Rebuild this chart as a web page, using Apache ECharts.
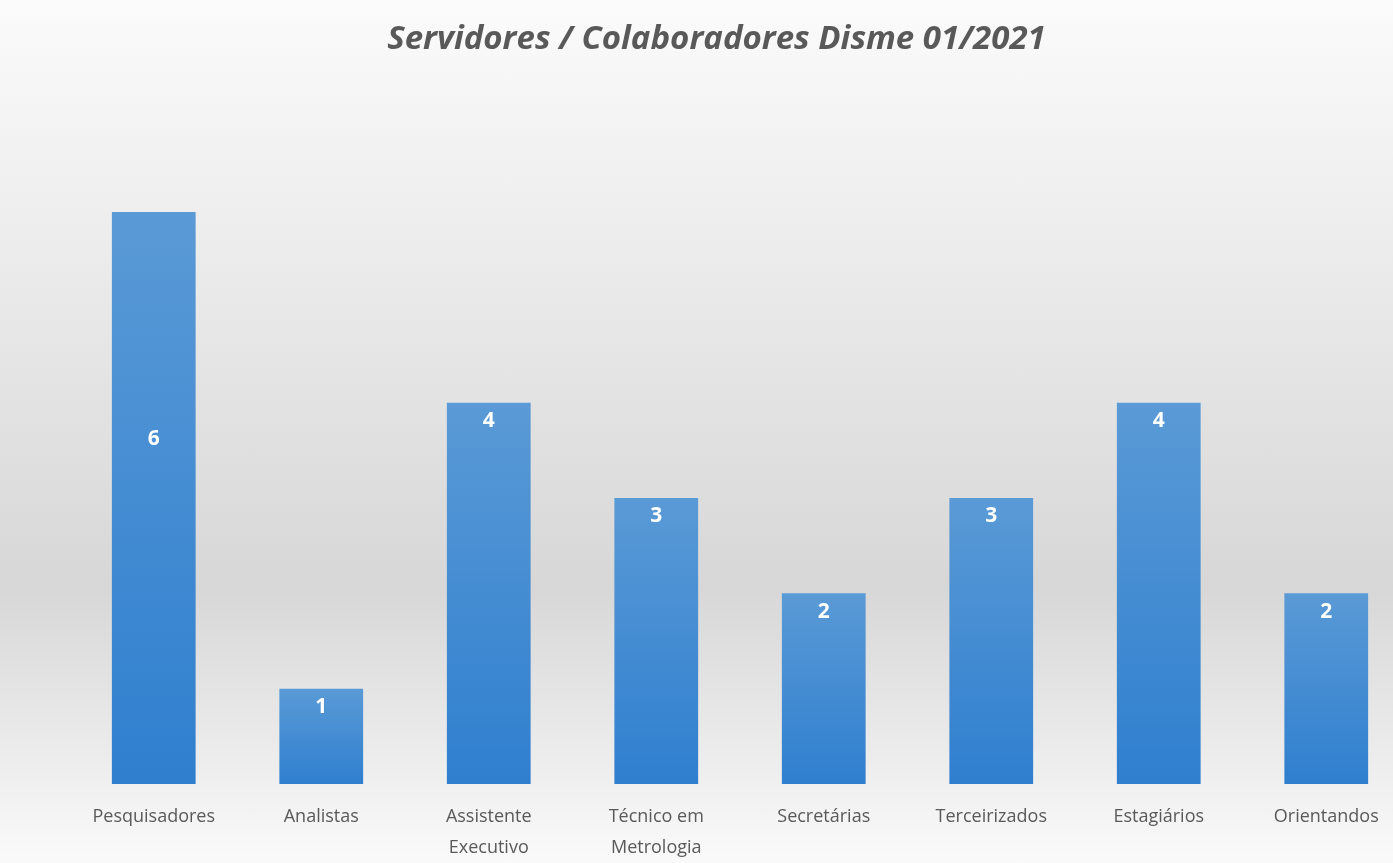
<!DOCTYPE html>
<html>
<head>
<meta charset="utf-8">
<script src="https://cdn.jsdelivr.net/npm/echarts@6/dist/echarts.min.js"></script>
<style>
  html, body { margin: 0; padding: 0; overflow: hidden; }
  #chart {
    width: 1433px; height: 863px;
    background: linear-gradient(to bottom, #fbfbfb 0%, #eeeeee 25%, #d7d7d7 68%, #f1f1f1 92%, #fafafa 100%);
  }
</style>
</head>
<body>
<div id="chart"></div>
<script>
// dados
const categorias = ['Pesquisadores', 'Analistas', 'Assistente\nExecutivo', 'Técnico em\nMetrologia',
  'Secretárias', 'Terceirizados', 'Estagiários', 'Orientandos'];
const valores = [6, 1, 4, 3, 2, 3, 4, 2];

// o gráfico original foi cortado à direita, por isso o div é mais largo que a janela
const chart = echarts.init(document.getElementById('chart'));

const barColor = new echarts.graphic.LinearGradient(0, 0, 0, 1, [
  { offset: 0, color: '#5a9ad6' },
  { offset: 1, color: '#2f7fcf' }
]);

chart.setOption({
  backgroundColor: 'transparent',
  title: {
    text: 'Servidores / Colaboradores Disme 01/2021',
    left: 'center', top: 18,
    textStyle: { color: '#595959', fontSize: 33, fontWeight: 'bold', fontStyle: 'italic', fontFamily: 'Open Sans' }
  },
  grid: { left: 70, right: 23, top: 212, bottom: 76 },
  xAxis: {
    type: 'category',
    data: categorias,
    axisLine: { show: false },
    axisTick: { show: false },
    axisLabel: {
      color: '#595959', fontSize: 18, fontFamily: 'Open Sans',
      margin: 17, lineHeight: 31, interval: 0
    }
  },
  yAxis: { type: 'value', min: 0, max: 6, show: false, splitLine: { show: false } },
  series: [{
    type: 'bar',
    barWidth: '50%',
    itemStyle: { color: barColor },
    label: {
      show: true, position: 'insideTop', distance: 8,
      color: '#ffffff', fontSize: 21, fontWeight: 'bold', fontFamily: 'Open Sans'
    },
    data: valores.map((v, i) => i === 0
      ? { value: v, label: { distance: 217 } }
      : v)
  }]
});
</script>
</body>
</html>
